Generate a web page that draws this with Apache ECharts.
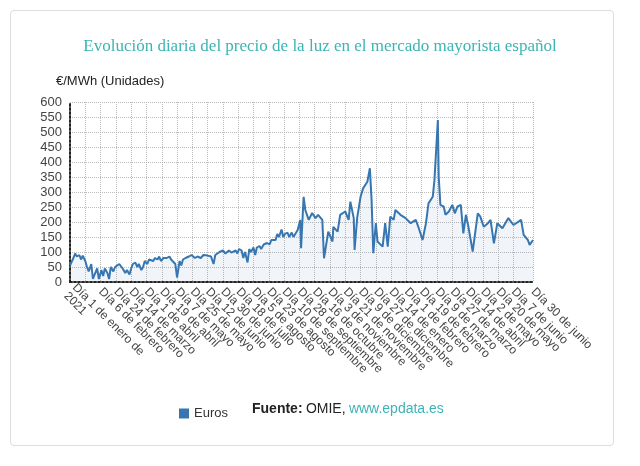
<!DOCTYPE html>
<html><head><meta charset="utf-8">
<script src="https://cdn.jsdelivr.net/npm/echarts@6/dist/echarts.min.js"></script>
<style>html,body{margin:0;padding:0;background:#fff}
#box{position:absolute;left:10px;top:10px;width:602px;height:434px;border:1px solid #ddd;border-radius:4px}
#c{position:absolute;left:0;top:0;width:640px;height:466px}</style>
</head><body><div id="box"></div><div id="c"></div>
<script>
var months = ['enero','febrero','marzo','abril','mayo','junio','julio','agosto','septiembre','octubre','noviembre','diciembre'];
var startDate = [2021, 0, 1];
var numDays = 546;
var days = [0,4,6,8,11,13,15,18,20,22,25,27,29,32,34,37,39,41,44,46,48,51,53,55,58,60,62,65,67,70,72,74,77,79,81,84,86,88,91,93,95,98,100,103,105,107,110,112,114,117,119,121,124,126,129,131,133,136,138,140,143,145,147,150,152,154,157,159,162,164,166,169,171,173,176,178,180,183,185,187,190,192,195,197,199,202,204,206,209,211,213,216,218,220,223,225,228,230,232,235,237,239,242,244,246,249,251,253,256,258,261,
263,268,271,272,275,277,281,285,289,292,297,299,304,309,310,315,318,324,328,330,334,335,338,342,345,350,353,355,357,360,362,368,371,374,377,381,383,389,395,401,407,410,415,419,422,427,429,431,433,434,436,440,442,446,450,453,456,460,463,466,469,474,476,480,483,487,492,495,499,503,509,516,522,531,534,539,541,545];
var prices = [55,80,95,85,90,75,88,70,50,35,60,10,25,45,10,40,20,45,30,10,50,35,50,55,60,55,45,30,40,25,45,60,65,50,60,40,50,70,60,75,80,70,80,75,85,70,80,75,80,85,75,80,60,15,70,55,75,80,75,85,90,85,80,85,90,80,90,95,88,92,85,60,90,95,100,95,105,95,100,105,98,100,105,95,110,105,80,100,65,110,100,115,90,115,120,110,125,120,130,125,140,145,140,160,150,175,150,160,165,150,165,
150,173,207,113,284,240,207,230,213,224,207,79,168,135,184,168,224,235,207,268,213,107,213,284,312,334,379,273,96,196,135,118,196,118,218,207,240,224,213,196,207,184,140,196,262,284,340,440,540,351,257,251,224,235,257,229,251,257,162,224,184,101,96,229,218,184,196,207,129,196,179,213,190,207,157,140,124,140];
var yTicks = [0,50,100,150,200,250,300,350,400,450,500,550,600];

var cats = [];
for (var i = 0; i < numDays; i++) {
  var d = new Date(startDate[0], startDate[1], startDate[2] + i);
  var s = 'Día ' + d.getDate() + ' de ' + months[d.getMonth()];
  if (i === 0) s = 'Día 1 de enero de\n2021';
  cats.push(s);
}
var data = days.map(function(dd, k){ return [dd, prices[k]]; });
function showTick(idx){ return (idx%18===0 && idx < numDays-10) || idx===numDays-1; }

var chart = echarts.init(document.getElementById('c'));
chart.setOption({
  animation:false,
  title:{text:'Evolución diaria del precio de la luz en el mercado mayorista español',left:'center',top:33,
    textStyle:{fontFamily:'Liberation Serif',fontWeight:'normal',fontSize:17,color:'#3cb4b4'}},
  grid:{left:70,right:107,top:102,bottom:184},
  legend:{data:['Euros'],left:174,top:402,icon:'rect',itemWidth:10,itemHeight:10,
    textStyle:{fontSize:13,color:'#333',fontFamily:'Liberation Sans'}},
  graphic:[{type:'text',left:252,top:402,style:{rich:{b:{fontWeight:'bold',fontSize:14,fill:'#222',fontFamily:'Liberation Sans'},n:{fontSize:14,fill:'#222',fontFamily:'Liberation Sans'},l:{fontSize:14,fill:'#3cb4b4',fontFamily:'Liberation Sans'}},text:'{b|Fuente:} {n|OMIE,} {l|www.epdata.es}'}}],
  xAxis:{type:'category',data:cats,boundaryGap:false,
    axisLine:{lineStyle:{color:'#222',type:'dotted',width:2}},
    axisTick:{show:false},
    axisLabel:{rotate:-45,fontSize:12,color:'#444',fontFamily:'Liberation Sans',hideOverlap:false,showMinLabel:true,showMaxLabel:true,
      interval:showTick},
    splitLine:{show:true,interval:showTick,lineStyle:{color:'#bbb',type:'dotted'}}},
  yAxis:{type:'value',min:0,max:600,interval:50,name:'€/MWh (Unidades)',nameLocation:'end',nameGap:14,
    nameTextStyle:{align:'left',padding:[0,0,0,-14],fontSize:13,color:'#222',fontFamily:'Liberation Sans'},
    axisLine:{show:true,lineStyle:{color:'#222',type:'dotted',width:2}},
    axisLabel:{fontSize:13,color:'#444',fontFamily:'Liberation Sans',formatter:function(v){return yTicks.indexOf(v)>=0?String(v):'';}},
    splitLine:{lineStyle:{color:'#bbb',type:'dotted'}}},
  series:[{name:'Euros',type:'line',data:data,symbol:'none',
    lineStyle:{color:'#3776b0',width:2},itemStyle:{color:'#3776b0'},
    areaStyle:{color:'rgba(55,118,176,0.1)'}}]
});
</script></body></html>
